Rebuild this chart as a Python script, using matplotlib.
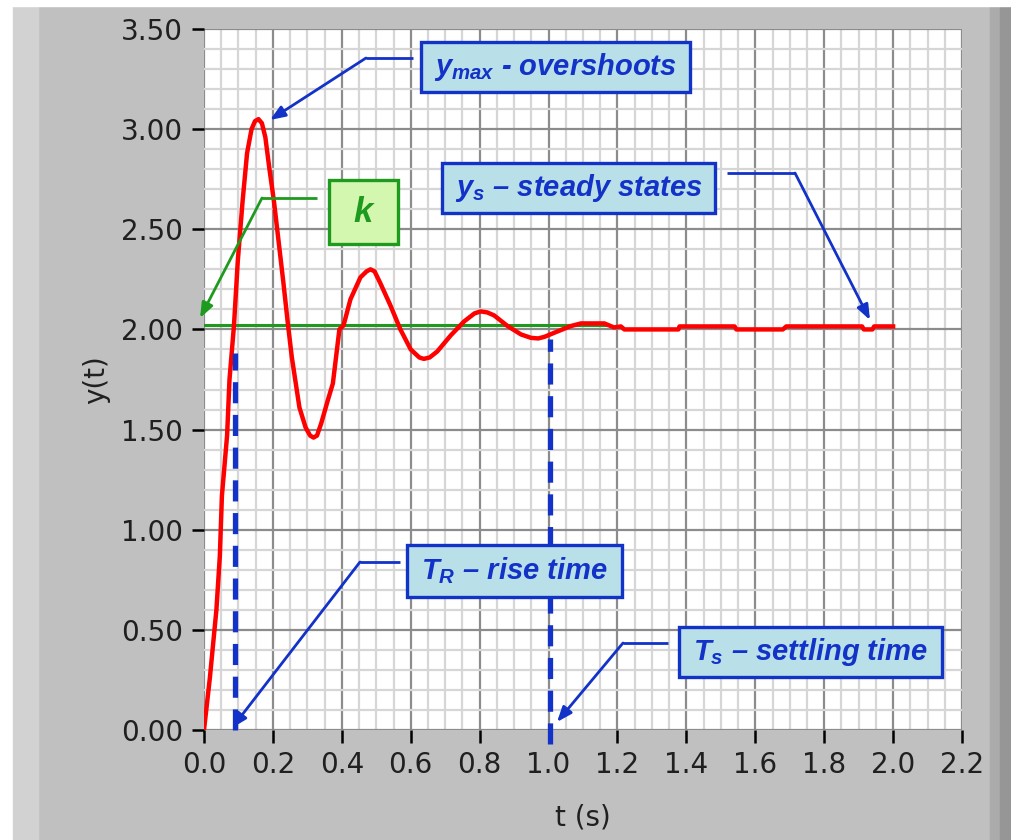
import matplotlib
matplotlib.use("Agg")
import matplotlib.pyplot as plt
from matplotlib.patches import Rectangle
import numpy as np

# step response
t_data = [0.0, 0.017, 0.036, 0.046, 0.052, 0.067, 0.074, 0.087, 0.098, 0.112,
          0.125, 0.138, 0.148, 0.158, 0.168, 0.178, 0.19, 0.203, 0.23, 0.244,
          0.255, 0.277, 0.295, 0.308, 0.318, 0.328, 0.34, 0.36,
          0.374, 0.393, 0.405, 0.425, 0.454, 0.472, 0.483, 0.495, 0.512, 0.541,
          0.57, 0.60, 0.625, 0.638, 0.655, 0.677, 0.716, 0.755, 0.785, 0.803,
          0.822, 0.842, 0.881, 0.92, 0.949, 0.97, 0.988,
          1.026, 1.065, 1.094, 1.162, 1.19, 1.21, 1.22, 1.377, 1.38, 1.54,
          1.545, 1.68, 1.69, 1.91, 1.915, 1.94, 1.945, 2.0]
y_data = [0.0, 0.26, 0.60, 0.87, 1.17, 1.47, 1.75, 2.02, 2.34, 2.64,
          2.88, 3.00, 3.04, 3.05, 3.03, 2.96, 2.80, 2.64, 2.24, 2.02,
          1.86, 1.61, 1.51, 1.47, 1.46, 1.47, 1.53, 1.65,
          1.73, 2.0, 2.02, 2.15, 2.26, 2.29, 2.30, 2.29, 2.23, 2.12,
          2.0, 1.90, 1.86, 1.853, 1.86, 1.89, 1.97, 2.04, 2.08, 2.09,
          2.085, 2.07, 2.017, 1.975, 1.958, 1.955, 1.963,
          1.99, 2.017, 2.03, 2.03, 2.01, 2.015, 2.0, 2.0, 2.015, 2.015,
          2.0, 2.0, 2.015, 2.015, 2.0, 2.0, 2.015, 2.015]

k_value = 2.02
k_end = 1.17
t_rise = 0.09
y_rise_top = 1.88
t_settle = 1.005
y_settle_top = 1.95

x_ticks = np.round(np.arange(0, 2.21, 0.2), 1)
y_ticks = np.round(np.arange(0, 3.51, 0.5), 2)

BLUE = "#1232c8"
BOXBLUE = "#b9e0e8"
GREEN = "#1e9a1e"
BOXGREEN = "#d4f7b0"

plt.rcParams["mathtext.fontset"] = "custom"
plt.rcParams["mathtext.rm"] = "Liberation Sans:bold:italic"
plt.rcParams["mathtext.it"] = "Liberation Sans:bold:italic"
plt.rcParams["mathtext.bf"] = "Liberation Sans:bold:italic"

fig = plt.figure(figsize=(10.12, 8.4), dpi=100, facecolor="#c0c0c0")

# window frame decoration
fig.patches.append(Rectangle((0, 0), 13 / 1012, 1, transform=fig.transFigure,
                             color="white", zorder=-5))
fig.patches.append(Rectangle((13 / 1012, 0), 25 / 1012, 1, transform=fig.transFigure,
                             color="#d2d2d2", zorder=-5))
fig.patches.append(Rectangle((0, 1 - 6 / 840), 1, 6 / 840, transform=fig.transFigure,
                             color="white", zorder=-4))
fig.patches.append(Rectangle((990 / 1012, 0), 10 / 1012, 1 - 6 / 840, transform=fig.transFigure,
                             color="#ababab", zorder=-5))
fig.patches.append(Rectangle((1000 / 1012, 0), 12 / 1012, 1 - 6 / 840, transform=fig.transFigure,
                             color="#969696", zorder=-5))

ax = fig.add_axes([204 / 1012, 1 - 730 / 840, 758 / 1012, 701 / 840])
ax.set_facecolor("white")
ax.set_xlim(0, 2.2)
ax.set_ylim(0, 3.5)

ax.set_xticks(x_ticks)
ax.set_xticklabels([f"{v:.1f}" for v in x_ticks])
ax.set_yticks(y_ticks)
ax.set_yticklabels([f"{v:.2f}" for v in y_ticks])
ax.set_xticks(np.arange(0, 2.21, 0.05), minor=True)
ax.set_yticks(np.arange(0, 3.51, 0.1), minor=True)
ax.grid(which="minor", color="#d6d6d6", linewidth=1.6)
ax.grid(which="major", color="#8c8c8c", linewidth=1.6)
ax.set_axisbelow(True)
for s in ax.spines.values():
    s.set_visible(False)
ax.tick_params(which="major", length=9, width=1.8, color="black",
               labelsize=20, labelcolor="#202020", pad=6)
ax.tick_params(which="minor", length=0)
ax.set_xlabel("t (s)", fontsize=20, color="#202020", labelpad=18)
ax.set_ylabel("y(t)", fontsize=20, color="#202020", labelpad=8)

# response curve and steady-state line
ax.plot([0, k_end], [k_value, k_value], color=GREEN, lw=2.2, zorder=3)
ax.plot(t_data, y_data, color="#ff0000", lw=3.2, zorder=4)

# rise / settling time markers
ax.plot([t_rise, t_rise], [0, y_rise_top], color=BLUE, lw=3.8,
        dashes=(4, 2.2), zorder=5, clip_on=False)
ax.plot([t_settle, t_settle], [-0.07, y_settle_top], color=BLUE, lw=3.8,
        dashes=(4, 2.2), zorder=5, clip_on=False)

def px2data(px, py):
    return (px - 204) / 758 * 2.2, (730 - py) / 701 * 3.5

def label_box(x0, y0, x1, y1, text, fill, edge, color, size):
    (a, b), (c, d) = px2data(x0, y1), px2data(x1, y0)
    ax.add_patch(Rectangle((a, b), c - a, d - b, facecolor=fill, edgecolor=edge,
                           lw=2.4, zorder=6, clip_on=False))
    ax.text((a + c) / 2, (b + d) / 2, text, ha="center", va="center",
            fontsize=size, color=color, family="Liberation Sans",
            fontweight="bold", style="italic", zorder=7)

def elbow(start, corner, tip, color):
    s, c, tp = px2data(*start), px2data(*corner), px2data(*tip)
    ax.plot([s[0], c[0]], [s[1], c[1]], color=color, lw=2.0, zorder=6,
            clip_on=False, solid_capstyle="butt")
    ax.annotate("", xy=tp, xytext=c,
                arrowprops=dict(arrowstyle="-|>,head_length=0.9,head_width=0.35",
                                color=color, lw=2.0, shrinkA=0, shrinkB=0),
                zorder=6, annotation_clip=False)

label_box(421, 42, 690, 92, r"$y_{max}$ - overshoots", BOXBLUE, BLUE, BLUE, 21)
elbow((413, 58), (366, 58), (270, 120), BLUE)

label_box(329, 180, 398, 244, "k", BOXGREEN, GREEN, GREEN, 25)
elbow((317, 198), (262, 198), (200, 318), GREEN)

label_box(442, 163, 715, 213, r"$y_s$ – steady states", BOXBLUE, BLUE, BLUE, 21)
elbow((727, 173), (795, 173), (870, 320), BLUE)

label_box(407, 545, 622, 597, r"$T_R$ – rise time", BOXBLUE, BLUE, BLUE, 21)
elbow((400, 562), (360, 562), (232, 728), BLUE)

label_box(679, 627, 942, 677, r"$T_s$ – settling time", BOXBLUE, BLUE, BLUE, 21)
elbow((668, 643), (623, 643), (557, 722), BLUE)

fig.savefig("out.png", dpi=100, facecolor=fig.get_facecolor())
